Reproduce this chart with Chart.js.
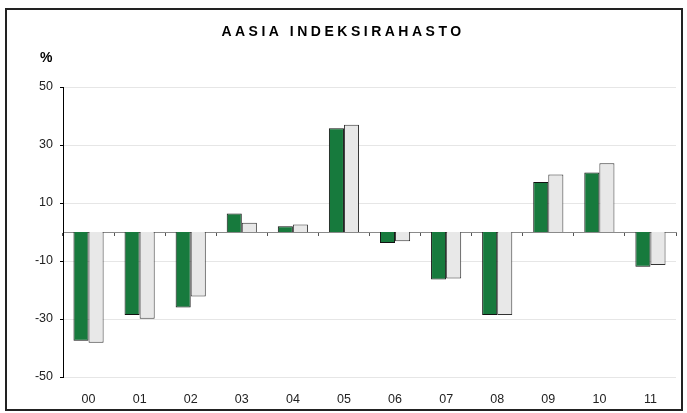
<!DOCTYPE html>
<html>
<head>
<meta charset="utf-8">
<script src="https://cdn.jsdelivr.net/npm/chart.js@4/dist/chart.umd.min.js"></script>
<style>
  html, body { margin: 0; padding: 0; background: #ffffff; }
  #wrap { position: relative; width: 687px; height: 413px; }
  #frame { position: absolute; left: 5px; top: 8px; width: 678px; height: 403px;
           box-sizing: border-box; border: 2px solid #222; pointer-events: none; z-index: 2; }
  canvas { position: absolute; left: 0; top: 0; }
</style>
</head>
<body>
<div id="wrap">
  <canvas id="c" width="687" height="413"></canvas>
  <div id="frame"></div>
</div>
<script>
// ---- data ----
const categories = ['00', '01', '02', '03', '04', '05', '06', '07', '08', '09', '10', '11'];
const fundValues  = [-37.5, -28.6, -26.0, 6.4, 2.0, 35.8, -3.8, -16.4, -28.6, 17.2, 20.5, -12.0];
const indexValues = [-38.2, -29.9, -22.2, 3.2, 2.6, 37.0, -3.2, -16.0, -28.6, 19.8, 23.7, -11.4];
const yTickValues = [50, 30, 10, -10, -30, -50];
const titleText = 'AASIA INDEKSIRAHASTO';
const unitText = '%';

const FONT = 'Arial, "Liberation Sans", sans-serif';

const spacedTitle = {
  id: 'spacedTitle',
  beforeDraw(chart) {
    const tb = chart.titleBlock;
    if (tb && !tb._spaced) {
      const orig = tb.draw.bind(tb);
      tb.draw = function (area) {
        const ctx = chart.ctx;
        ctx.save();
        if ('letterSpacing' in ctx) ctx.letterSpacing = '3.5px';
        orig(area);
        ctx.restore();
      };
      tb._spaced = true;
    }
  }
};

const unitLabel = {
  id: 'unitLabel',
  afterDraw(chart) {
    const ctx = chart.ctx;
    const y = chart.scales.y;
    ctx.save();
    ctx.font = 'bold 14px ' + FONT;
    ctx.fillStyle = '#000';
    ctx.textAlign = 'left';
    ctx.textBaseline = 'middle';
    ctx.fillText(unitText, y.right - 23, chart.chartArea.top - 29);
    ctx.restore();
  }
};

new Chart(document.getElementById('c'), {
  type: 'bar',
  data: {
    labels: categories,
    datasets: [
      { label: 'Rahasto', data: fundValues, xAxisID: 'x', yAxisID: 'y',
        backgroundColor: '#177a3d', borderColor: '#111', borderWidth: 1,
        barPercentage: 1.0, categoryPercentage: 0.59 },
      { label: 'Vertailuindeksi', data: indexValues, xAxisID: 'x', yAxisID: 'y',
        backgroundColor: '#e8e8e8', borderColor: '#333', borderWidth: 1,
        barPercentage: 1.0, categoryPercentage: 0.59 }
    ]
  },
  options: {
    responsive: false,
    animation: false,
    layout: { padding: { left: 10, right: 11, top: 11, bottom: 7.5 } },
    plugins: {
      legend: { display: false },
      tooltip: { enabled: false },
      title: {
        display: true, text: titleText, color: '#000',
        font: { family: FONT, size: 14, weight: 'bold' },
        padding: { top: 13, bottom: 46.2 }
      }
    },
    scales: {
      x: {
        type: 'category', position: 'bottom', offset: true,
        afterFit(scale) { scale.height = 28.5; },
        grid: { display: false, drawTicks: false },
        border: { display: false },
        ticks: { color: '#222', font: { family: FONT, size: 12.5 }, padding: 15, maxRotation: 0 }
      },
      x0: {
        type: 'category', position: { y: 0 }, offset: true,
        afterFit(scale) { scale.height = 0; },
        grid: { display: true, drawOnChartArea: false, drawTicks: true, tickLength: 3,
                tickColor: '#555', offset: true },
        border: { display: true, color: '#8a8a8a', width: 1 },
        ticks: { display: false }
      },
      y: {
        type: 'linear', position: 'left', min: -50, max: 50,
        afterBuildTicks(scale) { scale.ticks = yTickValues.map(v => ({ value: v })); },
        afterFit(scale) { scale.width = 53; },
        grid: { color: '#e6e6e6', lineWidth: 1, drawTicks: true, tickLength: 3, tickColor: '#000' },
        border: { display: true, color: '#000', width: 1 },
        ticks: { color: '#222', font: { family: FONT, size: 12.5 }, padding: 7 }
      }
    }
  },
  plugins: [spacedTitle, unitLabel]
});
</script>
</body>
</html>
